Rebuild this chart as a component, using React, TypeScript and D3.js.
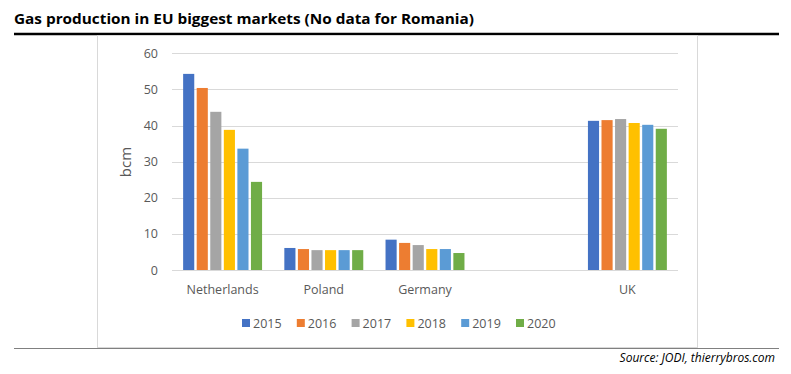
import React, { useEffect, useRef } from "react";
import * as d3 from "d3";

// data (bcm)
const categories = ["Netherlands", "Poland", "Germany", "", "UK"];
const years = ["2015", "2016", "2017", "2018", "2019", "2020"];
const netherlands = [54.3, 50.4, 43.8, 38.8, 33.6, 24.4];
const poland = [6.1, 5.8, 5.5, 5.5, 5.5, 5.5];
const germany = [8.4, 7.5, 6.9, 5.8, 5.8, 4.7];
const uk = [41.3, 41.5, 41.8, 40.7, 40.2, 39.1];
const yTicks = [0, 10, 20, 30, 40, 50, 60];
const colors = ["#4472C4", "#ED7D31", "#A5A5A5", "#FFC000", "#5B9BD5", "#70AD47"];

const series: Record<string, number[]> = {
  Netherlands: netherlands,
  Poland: poland,
  Germany: germany,
  UK: uk,
};

const W = 791;
const H = 374;
const FONT = "'Open Sans', 'Noto Sans', sans-serif";

const App = () => {
  const svgRef = useRef<SVGSVGElement>(null);

  useEffect(() => {
    const svg = d3.select(svgRef.current);
    svg.selectAll("*").remove();

    // title + rules
    svg
      .append("text")
      .attr("x", 14)
      .attr("y", 24)
      .attr("font-family", FONT)
      .attr("font-weight", "bold")
      .attr("font-size", 15)
      .attr("textLength", 460)
      .attr("lengthAdjust", "spacingAndGlyphs")
      .attr("fill", "#000")
      .text("Gas production in EU biggest markets (No data for Romania)");

    svg.append("line").attr("x1", 14).attr("x2", 779).attr("y1", 34).attr("y2", 34)
      .attr("stroke", "#000").attr("stroke-width", 2.3);

    // chart frame
    svg.append("rect").attr("x", 97.5).attr("y", 35.5).attr("width", 600).attr("height", 312)
      .attr("fill", "#fff").attr("stroke", "#D9D9D9").attr("stroke-width", 1);

    svg.append("line").attr("x1", 14).attr("x2", 779).attr("y1", 348.5).attr("y2", 348.5)
      .attr("stroke", "#808080").attr("stroke-width", 1.2);

    svg
      .append("text")
      .attr("x", 775)
      .attr("y", 362)
      .attr("text-anchor", "end")
      .attr("font-family", FONT)
      .attr("font-style", "italic")
      .attr("font-size", 12)
      .attr("fill", "#000")
      .text("Source: JODI, thierrybros.com");

    const x0 = d3.scaleBand().domain(categories).range([172, 678]).paddingInner(0.22).paddingOuter(0.11);
    const x1 = d3.scaleBand().domain(years).range([0, x0.bandwidth()]).paddingInner(0.18);
    const y = d3.scaleLinear().domain([0, 60]).range([270, 53.3]);

    // gridlines
    svg
      .append("g")
      .selectAll("line")
      .data(yTicks)
      .join("line")
      .attr("x1", 172)
      .attr("x2", 678)
      .attr("y1", (d) => Math.round(y(d)) + 0.5)
      .attr("y2", (d) => Math.round(y(d)) + 0.5)
      .attr("stroke", "#D9D9D9")
      .attr("stroke-width", 1);

    svg
      .append("g")
      .selectAll("text")
      .data(yTicks)
      .join("text")
      .attr("x", 158)
      .attr("y", (d) => y(d) + 4.5)
      .attr("text-anchor", "end")
      .attr("font-family", FONT)
      .attr("font-size", 12.5)
      .attr("fill", "#595959")
      .text((d) => d);

    svg
      .append("text")
      .attr("transform", "translate(131,162) rotate(-90)")
      .attr("text-anchor", "middle")
      .attr("font-family", FONT)
      .attr("font-size", 15)
      .attr("fill", "#595959")
      .text("bcm");

    // bars
    const groups = svg
      .append("g")
      .selectAll("g")
      .data(categories.filter((c) => c !== ""))
      .join("g")
      .attr("transform", (c) => `translate(${x0(c)},0)`);

    groups
      .selectAll("rect")
      .data((c) => series[c].map((v, i) => ({ year: years[i], value: v, i })))
      .join("rect")
      .attr("x", (d) => x1(d.year)!)
      .attr("width", x1.bandwidth())
      .attr("y", (d) => y(d.value))
      .attr("height", (d) => y(0) - y(d.value))
      .attr("fill", (d) => colors[d.i]);

    groups
      .append("text")
      .attr("x", x0.bandwidth() / 2)
      .attr("y", 294)
      .attr("text-anchor", "middle")
      .attr("font-family", FONT)
      .attr("font-size", 12.5)
      .attr("fill", "#595959")
      .text((c) => c);

    // legend
    const legend = svg
      .append("g")
      .selectAll("g")
      .data(years)
      .join("g")
      .attr("transform", (_, i) => `translate(${242 + i * 54.8},323)`);

    legend.append("rect").attr("x", 0).attr("y", -4).attr("width", 8).attr("height", 8)
      .attr("fill", (_, i) => colors[i]);

    legend
      .append("text")
      .attr("x", 11)
      .attr("y", 4.5)
      .attr("font-family", FONT)
      .attr("font-size", 12.5)
      .attr("fill", "#595959")
      .text((d) => d);
  }, []);

  return (
    <svg
      ref={svgRef}
      width={W}
      height={H}
      style={{ display: "block", position: "absolute", left: 0, top: 0 }}
    />
  );
};

export default App;
